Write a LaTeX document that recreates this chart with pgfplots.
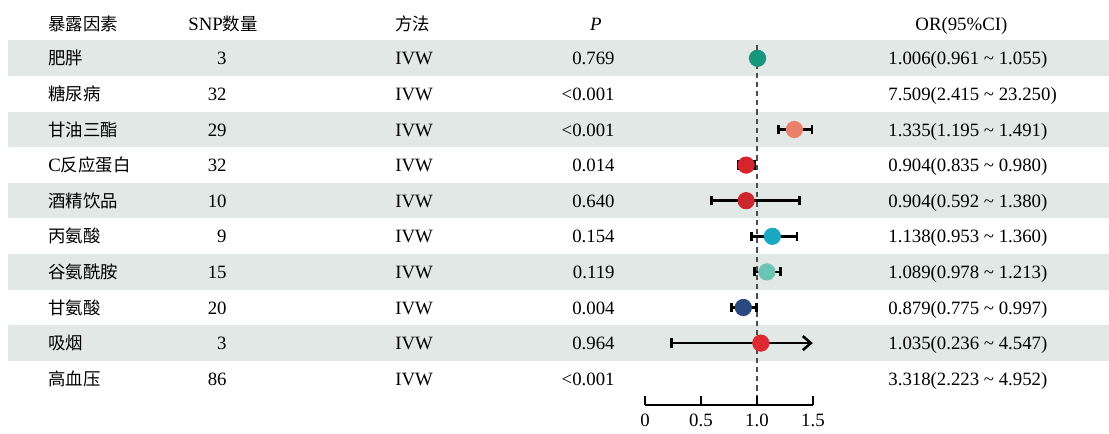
\documentclass[border=0pt]{standalone}
\usepackage{pgfplots}
\pgfplotsset{compat=1.18}
\usetikzlibrary{arrows.meta}
\usepackage{fontspec}
\setmainfont{Liberation Serif}
\newfontfamily\cjk{Noto Sans CJK SC}[Scale=0.925]
\definecolor{stripe}{RGB}{225,232,229}
\definecolor{cA}{RGB}{22,150,122}
\definecolor{cC}{RGB}{232,128,108}
\definecolor{cD}{RGB}{214,36,44}
\definecolor{cE}{RGB}{204,38,46}
\definecolor{cF}{RGB}{26,168,192}
\definecolor{cG}{RGB}{108,196,178}
\definecolor{cH}{RGB}{43,72,128}
\definecolor{cI}{RGB}{222,40,50}
\pgfplotsset{
  fp/.style={only marks, mark=*, mark size=4.1pt,
    error bars/.cd, x dir=both, x explicit,
    error bar style={line width=1.3pt, black},
    error mark options={line width=1.3pt, black, mark size=2.3pt, rotate=90},
    /pgfplots/.cd},
}
\begin{document}
\begin{tikzpicture}[font=\fontsize{9.4}{11}\selectfont,
  tl/.style={anchor=base west, inner sep=0pt},
  tr/.style={anchor=base east, inner sep=0pt},
  tc/.style={anchor=base, inner sep=0pt}]
\begin{axis}[name=main, scale only axis, width=554.5pt, height=215pt,
  xmin=-5.764, xmax=4.147, ymin=-0.6376, ymax=11.441, y dir=reverse,
  axis lines=none, clip=false]
% stripes
\addplot[fill=stripe, draw=none] coordinates {(-5.69,0.5) (4.147,0.5) (4.147,1.5) (-5.69,1.5)} --cycle;
\addplot[fill=stripe, draw=none] coordinates {(-5.69,2.5) (4.147,2.5) (4.147,3.5) (-5.69,3.5)} --cycle;
\addplot[fill=stripe, draw=none] coordinates {(-5.69,4.5) (4.147,4.5) (4.147,5.5) (-5.69,5.5)} --cycle;
\addplot[fill=stripe, draw=none] coordinates {(-5.69,6.5) (4.147,6.5) (4.147,7.5) (-5.69,7.5)} --cycle;
\addplot[fill=stripe, draw=none] coordinates {(-5.69,8.5) (4.147,8.5) (4.147,9.5) (-5.69,9.5)} --cycle;
% reference line
\addplot[color=black!70, line width=0.8pt, dash pattern=on 2.6pt off 2pt] coordinates {(1,0.626) (1,10.739)};
% forest points
\addplot[color=cA, fp] coordinates {(1.006,1) -= (0.045,0) += (0.049,0)};
\addplot[color=cC, fp] coordinates {(1.335,3) -= (0.140,0) += (0.156,0)};
\addplot[color=cD, fp] coordinates {(0.904,4) -= (0.069,0) += (0.076,0)};
\addplot[color=cE, fp] coordinates {(0.904,5) -= (0.312,0) += (0.476,0)};
\addplot[color=cF, fp] coordinates {(1.138,6) -= (0.185,0) += (0.222,0)};
\addplot[color=cG, fp] coordinates {(1.089,7) -= (0.111,0) += (0.124,0)};
\addplot[color=cH, fp] coordinates {(0.879,8) -= (0.104,0) += (0.118,0)};
% smoking: CI beyond axis, arrow
\addplot[black, line width=1.3pt, -{Straight Barb[length=4pt,width=7pt,line width=1.3pt]}] coordinates {(0.236,9) (1.5,9)};
\addplot[black, line width=1.3pt] coordinates {(0.236,8.87) (0.236,9.13)};
\addplot[only marks, mark=*, mark size=4.1pt, color=cI] coordinates {(1.035,9)};
\coordinate (ao) at (axis cs:0,10.739);
% header
\node[tl] at (axis cs:-5.335,0.22) {\cjk 暴露因素};
\node[tc] at (axis cs:-3.771,0.22) {SNP{\cjk 数量}};
\node[tl] at (axis cs:-2.234,0.22) {\cjk 方法};
\node[tc] at (axis cs:-0.438,0.22) {\textit{P}};
\node[tc] at (axis cs:2.828,0.22) {OR(95\%CI)};
% rows
\def\row#1#2#3#4#5{%
  \node[tl] at (axis cs:-5.335,#1+0.185) {#2};
  \node[tr] at (axis cs:-3.735,#1+0.185) {#3};
  \node[tl] at (axis cs:-2.234,#1+0.185) {IVW};
  \node[tr] at (axis cs:-0.268,#1+0.185) {#4};
  \node[tl] at (axis cs:2.172,#1+0.185) {#5};}
\row{1}{\cjk 肥胖}{3}{0.769}{1.006(0.961 \textasciitilde\ 1.055)}
\row{2}{\cjk 糖尿病}{32}{<0.001}{7.509(2.415 \textasciitilde\ 23.250)}
\row{3}{\cjk 甘油三酯}{29}{<0.001}{1.335(1.195 \textasciitilde\ 1.491)}
\row{4}{C{\cjk 反应蛋白}}{32}{0.014}{0.904(0.835 \textasciitilde\ 0.980)}
\row{5}{\cjk 酒精饮品}{10}{0.640}{0.904(0.592 \textasciitilde\ 1.380)}
\row{6}{\cjk 丙氨酸}{9}{0.154}{1.138(0.953 \textasciitilde\ 1.360)}
\row{7}{\cjk 谷氨酰胺}{15}{0.119}{1.089(0.978 \textasciitilde\ 1.213)}
\row{8}{\cjk 甘氨酸}{20}{0.004}{0.879(0.775 \textasciitilde\ 0.997)}
\row{9}{\cjk 吸烟}{3}{0.964}{1.035(0.236 \textasciitilde\ 4.547)}
\row{10}{\cjk 高血压}{86}{<0.001}{3.318(2.223 \textasciitilde\ 4.952)}
\end{axis}
\path (main.south west) rectangle (main.north east);
\begin{axis}[at={(ao)}, anchor=south west, scale only axis, width=84pt, height=20pt,
  xmin=0, xmax=1.5, ymin=0, ymax=1,
  axis x line=bottom, axis y line=none,
  xtick={0,0.5,1,1.5}, xticklabels={0,0.5,1.0,1.5},
  tick align=inside, major tick length=4.5pt,
  every tick/.style={black, line width=0.9pt},
  x axis line style={-, line width=0.9pt, black},
  xticklabel style={font=\fontsize{9.4}{11}\selectfont, yshift=-1pt}]
\end{axis}
\end{tikzpicture}
\end{document}
